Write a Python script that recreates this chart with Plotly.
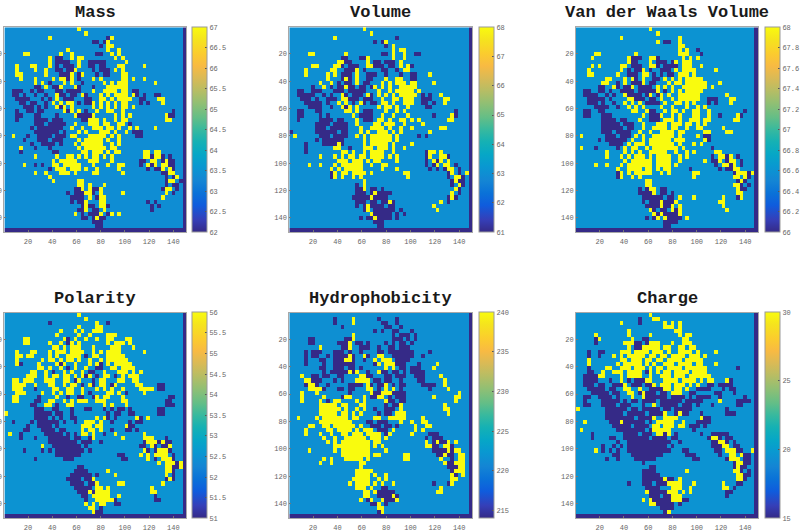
import numpy as np
import plotly.graph_objects as go

# Each map is stored as one run list per row of 3x3 residue bins.
# "o" marks bins at the top of the scale, "#" bins at the bottom of the scale.
MASS = [
"o20","o22","o12 #28 o29","#24-25 #27 o28","#26 o28-29","o17 o28 o31","o5-6 o15 o18 #25-26 o29 o31","#14-15 o12 o18 o20-21 o30 o32",
"o12 #14-17 o20 #23-27 o33","o3 o7-8 o12 #14 #16-18 o20 #23-24 #26-27 o31-32 o38","o3 o8 o11 #14-15 #17-18 o19 #24 #26-28 o30 o32","o3-4 o11 #15-17 o18 #20 o21 #25 #27-28 o32-33",
"o4 o8 o13 o15-16 #17 o18 #20 o24 o26 o32-33 o35 o38","o8 o10 #12 o16 o18 #21 o27 o29 o31-33 o41","#8-9 o11 #13-14 o15 o19 #20 #24 o28-33","#2-4 #7 #9-10 #14-15 #17-20 o24 o27-30 o32-33 #35-36",
"#2-3 #5 #8 #11 o14 #15-16 #18-19 o21 #22 o26 o28 o30-33 o35 #36 #38 #41-42","#3-6 #10 #12 o14 #16-18 #22-23 o26-27 o29 o31-34 #37-38 o42-43","#4-5 #7-8 #11 o13 o15 o17-18 #20 #22-23 o24 o26 o28 o30 o32-33 #37 #39 o43","#5-7 #9 #11 o14 #15 o16 o18 o24 o26 o28 o30 o32-33 o35",
"#3 #6-7 #9-10 o16 #17 o18 o20 #22 o25 o28-29 o32 #46","#3-4 #8-9 #14 o19 #20-23 o24 o30 o32 o34 o44 #45-46","#3 #8-11 #13-15 #21-22 o23-25 o27 o30 o32-33 o44-45","#8-10 #12-16 o19 o23-25 o27-28 o31-32 #34",
"#7 #9-15 o18 o21 o24-26 o28-29 o31 o34 o36 o41","#8-14 #16 o20 o22 o26-28 o30 o33 #35-37","o2 #6 #9-12 #14-16 o18-19 o23-27 o29 o31 #36-37","#5 #9-11 #13-15 o20 o22-26 o28 o31",
"#7 #10-13 #15 o19 o21-26 o29 o31","o4 #8 #12 o20 o22-26 o27 o29-30","#4 #13-14 o21-22 o24-26 o28 o30-31 #38 o38-39 o41-42","o8 o14 o17-18 o20 o22 o24-25 o27 o29 o38-39 #40 o41-42 #43 #45",
"o13 o15-19 o23-25 o29 #37-38 o40-41 #43 o44 #45-46","o5 #8 #10 o13-14 o16-20 o24 o28 o31-32 #37 o39 #40 o41 o43-44 #45-46","#12 o14-16 o18-20 o22 o25 o31 #39 #41-42 o43 o45 #46","o8 o11 o15-17 o19 o24-25 o32 #43-44 o45-46",
"o12 #44 #46 o47","o13 o20-21 #44 o45-46 #48","o20-21 o23 o27 #44 #46-47","#19-20 o21 o23 #24-25 o26 #43 o44-45 #47",
"#17 #19-21 o22-23 #24 o26 o32 o44 #46","#18-21 o23 #25 o26-27 o43","#18 #20-21 o22 o26 o27 #39 #41","#21 o22 #23-24 o26-27 #28 #40 #42",
"#20-21 o22 #24-25 o27 #40","o19 #21 #23-24 #25 o26 #28 o29 o31","#21-22 #24 o25 #26-27","#24-26","#25-26","#0-49",
]
VOLUME = [
"o20","o22","o12 #29","#23 #25 o26","#26 o28","o28 o30-31","o5-6 o15 #25-26 o28 o31 #34-35","#14-15 #19-20 o21 o28 o31",
"o13-14 #15-16 o21 #23-24 #26-28 o30","o6-7 o12-13 #14 #16-18 o21-22 #23-25 #27-28 o30 o32 #33","o4 o11-12 #15-17 o18 #20 #25-26 #29 o31-32","o4 o10 o12 #14-16 o18 #21-23 #26 #30 #33-34 o38",
"o10 #14 o15 #16 o18 #21-22 o26 o29-30 #33-34","o8 o11 #13 #15-16 o18 #20-21 o25 o27 o29-31 o33-34 o39","#6 o9 #11 #13-14 o15 #16-17 #19-20 #22 o23 o25 o27 o30-34","#2-3 #6-8 #12-14 #16-20 o24 o27 o29-33 o35",
"#2-6 #9 #11 o14 #15 #17-19 o21 #22 o24 o26 o28 o30-34 #36 #38 o41","#3-5 #7 #10-12 o14-15 #16-18 #20-22 o25 o28-29 o31-33 #36-38 o42-43","#4-8 #10 o13 o15 #17 o19 #20 #22-23 o25-26 o28 o31-33 #36-37 #39 o42","#5-8 #11 o14 #15 o16 o18 o24 o26-27 o29 o32 #37-38",
"#2-3 #7-8 o15-16 o18 #20-22 o26 o29 o31 #45","#2-3 #8 #10 o17 #19-22 o25 o28 o32 #39 o44 #45","#2 #8-11 #13-14 o18 #20-22 o24-25 o27 o30-31 o33 o35 o43-44","#7-10 #12-15 o18 o23-24 o26-28 o31 o36",
"#7-9 #11-15 o19 o22-25 o27 o30 o33 o41-42","#0 #7-12 #14-15 o19 o21 o24-26 o28 o30 o38","o1 #8-10 #12-15 o18 o20 o22-27 o29 #35 #37","#7 #9-14 o20 o22-27 o29",
"#4 #9-12 o13 #14 o20 o22-26 o28 o33","#4 o12 o13 #16 o20-22 o24-26 o28 o31","#4 o14-15 o17 o20 o22-25 o28 #37 o38-39 o41","o8 o12 o14 o16-17 o19-20 o22-25 o27 o29 #37 o38 o41-42 #43",
"o13-15 o17-19 o21 o23-24 o29 #37 o39 #40 o41 o43","o5 o8 o12 o14-19 o22 o25-26 #37 #39 o40 o42-43 #45","o11 o13 o15-19 o25 o29 #38 #40 #42 o43-44 #46","#11 o12 o14-15 o17-20 o22 o31-32 #43 o44 #46 o48",
"#11 o12 o14 o17 o19 o32 #43 o45-46 #47","o20 #44 o45 #46-47","#18 o20 #44 o46 #47","#18-19 o20 #22-23 #25 o45 #46",
"#18-20 #22 o23 #24-27 o44 #46","#17-21 #23-26 o22 #43 o44 #45","#18-20 #22-23 #25-28 o27 o41 #43","#18 #20-24 o21 #25 #27-28 o39",
"#20 o21 #23-24 #25-28 #30 o40","o22 #23 #24-27 #29 #31","#19 #21-22 o23 #24-27 #29","#23-25","#24-25","#0-49",
]
VDW_VOLUME = [
"o20","o22","o12 o28","#24-25 o22 o28","o28-29","o28 o30 #33","o5-6 o16 o28-30 #34","o4 o14 #15-17 o20-21 #22 o29 o31 o33",
"o14 #15-16 o20 #22-24 #26 o27 o29-31","o4 o6 o12-13 #15-17 o20-21 #22 #24-27 o29-31 o34","o3 o12 #14 #16-17 o18 #20 #23-25 o27 o29-32 o38","o3-4 o11 #14-16 o18-19 #21 #23 #25-26 o28-30 o32",
"o8-9 o13 o15 #16 o18 #21-22 o24 o26 o28 o30-34","o7-8 #11 o13 #15-17 o18 #20-21 o25 o27-28 o30-35 o39","#6-7 o10 #11 #13-14 o15 #17-20 o22 o24 o26 o29-35 o37","#2-3 #6-7 #9 #12-15 #17-21 o22 #24 o26 o28 o30-34",
"#2-5 #8 #10 o13 #14-17 #19 o20 #22 o23 o25 o28-33 o41","#3-7 #9 o14-15 #16-18 #20-21 o23 o26 o28-33 #36-38 o42-43","#3-5 #7 #10 o13 o15 o17 #19-22 o24 o27-28 o30 o32 #36 #38 o42","#5-8 #11 o14 o16 o18 o23 o26 o30 o33 o35",
"#2-3 #6-7 o15-16 o19 #20-21 o24 o26-27 o29 o32-33 o36 #46","#2-3 #7-9 o18 #20-22 o23 o26 o28 o32-33 o36 #39 o44 #45","#7-10 #12-13 o17 #20-22 o24-26 o28 o31-33 o35-36 o43-44","#7-11 #13-15 o18 o22-24 o26-28 o30-31 o33 o35",
"#7-12 #14-15 o18 o21-24 o26-27 o30 o33-34 o40","#7-9 #11-14 o17 o20 o23-26 o28-29 o35-36 o41-42","o1 #8-10 #12-14 o16 o18 o21-26 o28 o33 #35-36","#6 #8-13 o15 o18 o20-25 o27-29 o35 #36",
"#9-12 o14 o16-18 o20-26 o28 o32 o34","o1 #5 #11 o13 o15-16 o19 o21-26 o27 o29 #37","o8 o13 o15 o17 o20-24 o27 o30 o32 #38 o38-39","o8 o12 o14 o16-18 o20 o22-25 o28 o30 #37 o39-40 #41 o42 #44",
"o13 o15-20 o22-25 o28 o35 #37-38 o39 #41 o42-43 #45","o5 o8 o12 o14-20 o22-25 o27 #38 o40-41 #42 o43 #45","o11 o14-17 o19-20 o22 o24-25 #31 #39 #41-42 o43-44","#11 o12 o14 o16-20 o23 o25 o32-33 #43 o44-46 #47 o48",
"#11 o12 o15 o17 o32 o43-44 o46 #47","o19-20 #44 o45 #46","o19-20 o43-44 #45 #47","#17 #19 o20-21 #23-24 o44 #45-46",
"#17-20 o21 #23-24 #26 o44-45","#18-23 #25-26 o28 o32 o40 #44 o45","#18 #20-22 o23 #24-26 o27 o39-40","#19-22 o23 #24-25 o26 o28 o40",
"o20 #21 #23-24 o26 #27 o28 o41","o21 #22 o23 #24-27 o28","#19 #21 o22 o24 #25-28 o30","#24-27","#24-25","#0-49",
]
POLARITY = [
"o20","o22","#12 #28 o25","o20 o25-26","o15 o19 o21 o24-26","o14 o20 o23 o28-30","o5-6 o16 #17 o19 o22 o25 o28-29 o33-34","o5-6 o12 o15 #17 o18 o20 o28 o30-32 o34",
"o13-14 o16 o18-20 o24 o29-31 o35","o3 o7-8 o12 o14-16 o18-21 o24 o26 o28-31 o38","o3-4 o6-7 o12 o14 o17-20 #22 o24-25 o28-32","o3 o10 o12-13 o15 o17-18 o20 o23 o26 o28-33",
"o3 #4 o9 o14 #15 o16 o19 o23 o25 #26 o28 o30-34","o9-10 o12 o15 #17 o19 o22 #25-26 o29-30 o32-35","o7-8 o11 #13 o16 o18 o21 #23-24 o27 o31-33 o35 o37","o6-8 o11 o13-14 o16-17 o19 o21 #22 o23 #25 o27-28 #30 o32 o34-36",
"o2-3 o5-7 o11-13 o16-17 #19 o20 #24 o26-27 o31-32 o35-36","o2-5 o8 o12-13 o16 o18-19 #21 o23 #24 o26-27 #29 o30 o36-37 #42-43","o2-4 #8 o13-14 o17-18 o21 o25 o27 o29 o32 o37 o38-40 #42-43","o3-5 o10 o13 o15 o17-18 o21 #23 o28-29 o31 #33 o38",
"o2-3 #9 o14 #17 #20-21 #24 o25 o27-28 o32 #45-46","o2-3 #8-9 o12-13 o16 o18 o20-22 o25-27 o32-33 #44-45","#7-8 o11-12 #14 o17-18 o27 o29 o33 #44-46","#8-10 #13-14 #18 #22-23 #27 #29 #31-32 #34 #42-43",
"o0 #8-12 #14-15 #18 #28 #30-31 #34-35 #42-43","#8-11 #13 #15 #18-19 o25 o27 #28 #30 o36 #37 o39","#2 #7 #9-14 #16 #19 o22-24 o26 #29 #34 #36-37","#6 #9-12 #14 o21-23 o25-26 o33 #34-35",
"#5-6 #10-13 #15-16 o21 o23-24 o26 #29 #33-34 #36","o1 #4 #11-15 #17 #19 o21-22 o24 #27 o30 o38","#4 #8 #12-17 #19-20 #23 o24 o32 o38-40 #44","#12-19 #21-23 #26 #38 o39-41 #42 o43 #44-45",
"o10 #13-20 #22 #37-38 o40 #41 #43-44 o45","#5 #10 #12 #14-21 #23 o38 #39 #41 o42-44 #45","#14-20 #31-32 o37 o39 o41-44 #46","#8 #16-18 #32-33 o39 #41 o43-45 #46",
"o42 o44-46 #47 o48","#20-21 o44-45 #46-47 o48","#19-22 o28 o44-45 #46","#18-23 #25 o30 o44 #46",
"#17-20 #22-23 o24 #44 o45 #46","#18-21 #23-24 o25 o31-32 o43","#19-23 o25-26 o28 o40","#20-22 o23 #24 o25-28 o40-41",
"#21-22 o24-28 o31 #41","#22 o25-29 #30 #41-42","o22 o24 o26-27 #30-31","o23-24 #26","o24 #25-26","#0-49",
]
HYDROPHOBICITY = [
"","#12 o17 #24 #29","#12 o17 #25-26 #29","#14 #26-27 #30","#23 #25 #28-29 #33","#17 o17 #28 #30-32 #34","#5-6 #15-16 o17 #28-30 #32 #34","#5-6 #13-15 o16 #18-19 #21 #26 #28 #30-31 #33",
"o8 #14-15 o16 #19-21 #24 #27-28 #30-32","#4 #6-8 #12-14 #16 #19 #24-25 #27-33 #38","#4 #6-7 #10 #12-15 o16 #17 o20 #21 o24-25 #28-33 #36","#4 #8-9 #12-14 o15-16 #17 #20 o23 o25-27 #29-32",
"#4 #9 #12-17 #23 o24 o26-28 #29-31 #35 o40","#8-9 #12-14 #16-17 #19 o26 o28 #30-31 #33-35 o39","#9 #11-15 o16 #17 o18 #21 o24 #25-26 #28-29 #31 #33-36","o3 #6-7 #9-10 #13-14 o19-20 #21-22 #26-27 #29-31 #34-36 o41",
"o4-5 #6-8 #12 #14 o18-21 #23-24 #26-27 #30 #35-36 o42","#4 o5-6 #7 #10 #16-19 o21 #22 #24-25 o26 #28 #30-31 #36-39 o42","o5-8 #9 #13-14 #16-17 o21-22 #24 o26 o28 #30 #38 o43","o3 o7 #16 o22 #23-24 o25-27 #28-31 o46",
"o3 o9 #14 o15-16 o20 #22-23 o24-25 #27 #29-31 o39 o45-46","o3 o8 #10 o12-13 o18 o20 o26 #27-28 #30-31 o45","o8-12 o14-15 o19-20 #26 #28-29 o30 o42","o8-13 o15 o18 o20 #23 #26-28 o30 o42-43",
"o8-12 o14-15 o17 o19 #24 #26-27 o29-31 o43","o2 o7 o9-15 o17-18 o23-24 o27-31 o36","o8-16 #21-22 #24-26 o30 o33 o36-37","o5-6 o9-10 o12-17 o19 #22-24 #26-27 #29 o34 o37-38",
"o4 o10-11 o13-16 o18 o20-22 #24-26 o28 o34 o36","o4 o8 o11 o14-15 o17-19 o21-24 #26 o27 o33 #38-40","o9 o12 o15-20 o22-24 o26 #37 #39-41","o10 o12 o14-21 o23-24 o37 #39 o40 #41-42 o43 o45",
"o12-14 o15-21 o23 o25 o37-38 #39-40 o42-43 #44","o5 o12 o14-21 o26 #39-42 o43 #44 o45-46","o14-21 o23-24 o31-32 #40-41 o42 #43-44 o46-47","o9 o11 o15-19 o21 o31-32 o41 #44 o46-47",
"o8 o11 o19-20 o42 #43-44 o45-47","o19 #43-45 o46-47","o18-22 #44 o45-47","o18-21 o23 o26 o44 #45 o47",
"o17-21 o24 o26 o44-45","o16 o18-21 o23 o25 o28 #39 o44 #43","o18-20 o22 #25-26 o41","o20-21 o23 #24-28 o40-41",
"o20-21 #24-27 o28 #29","o19 #21 o22 o25 #26-28 o29","#22-23 o24 #26","o24-25","#24 o25","#0-49",
]
CHARGE = [
"o20","o21-22 #17","o12 #17 o24 o26 o28","o24-26 o28","o14 o27-28","o5 o14 o20 o28 o30-31","#5 o6 o15 #18-19 o29-30","#5 o13-15 #16-17 #19 o20-22 o26 o29-31",
"o14 #16-17 o18-22 o24-25 o28-29 o31-32","#3 #6-7 o12-14 o16-19 o21-23 o25 o28-31 o33 o38","#3 #6 o10 o12 o14-18 o20-21 o23-24 o26-29 o31-33 o35","o3 o12-13 o15-17 o19-20 o22-23 o25-28 o30-34",
"o3 o11 o13-17 o19 o21 o24-26 o28-31 o33-34 o38","#3 o8-9 o12-14 o16-18 o20 o22-23 o25-28 o30-35 #44","#3-4 o7 o10-12 o14-17 #19 o20 o22 o24-25 o27-30 o32-35","#2-5 o6-7 o12 o14-17 o20 o23-25 o27-29 o31-36",
"#2-5 #9 o12 #14 #16-18 o19-20 o24-27 o29-32 o34 o36-37 o41 #42","#2-4 #6-7 #10-12 o13 #15-17 #19-20 o21 o23-25 o27-29 o31 o33 #36-37 #39-42","#3-7 #9-10 o13-14 o17 #20-23 o24-25 o27-28 o30 #33-36 #40 #42-43","#4-8 #10-11 o14-15 #17 o18 #19-21 #23-24 o26-28 #31-32 #38-39 #43",
"#2-3 #6-9 #11 o15 o18 #19-24 #26-29 #31 #33-36 #39 #46","#2 #7-11 #13 #15-16 #18-21 #23-28 #30-32 #33-34 o39 #44-47","#2-3 #7-10 #12-14 #18 o21 #23-27 #29-31 #33 #37 #44-45","o0 #8-13 #15-16 #18-22 #24-25 #27-31 #41",
"#8-12 #14-18 #20-23 o24 #27 o28 #29-30 #34 #41-43","#8-15 #17-19 #20 o21 o24-27 o34 #35-36","o2 #9-11 o12 #13-18 #20 o22-26 o29 #33-36","#10-14 #16-19 o21-22 o24-26 o28-29 #31-33 #35",
"o1 #11-18 #20 o21-25 #32","#4 #13-16 #18-20 o22-23 #24 o25 #27 #34 #37-41","#4 #9-10 #13-19 #21-24 #26-27 #36 o37-38 #39 #41-42","#11 #14-25 #28 #37-38 o39-40 #41 #43",
"#7 #10 #12 #14-24 #26 #37-39 o40-41 #43-44","o5 #7 #9 #11 #14-25 #29-30 #38-39 o41-43 #44-45 o48","#10-11 #15-23 #30-32 #39 o42-43 o45 #46-47","#8 #11 #16-21 #32-33 #41 o42-44 #46-47",
"#18 #43 o44-45 #46-47","#20-21 #43 o44 #45-46","#18-21 o30 o43-44 #45 #47","#18-22 o44-45 #46-47",
"#18-23 o24 #25-26 o28 o44-45 #46","#14 #18-20 #22-24 o25-28 o32 o40 #44-45","#19-22 o26-28 o31 o40-41 #43","o19 #20-24 o25-27 o29 o31 #41-42",
"#20-22 #24-25 o26-28 #41","o18 o20 #21-25 o26-28 #29-30","o20-21 #22-26 #28","#23-26","#24 o25","#0-49",
]

TITLES = ["Mass", "Volume", "Van der Waals Volume", "Polarity", "Hydrophobicity", "Charge"]
MAPS = [MASS, VOLUME, VDW_VOLUME, POLARITY, HYDROPHOBICITY, CHARGE]
LOW = [62, 61, 66, 51, 214, 15]
BASE = [63.4, 63, 66.6, 52.5, 221.5, 19.5]
HIGH = [67, 68, 68, 56, 240, 30]
CBAR_TICKS = [
    [62, 62.5, 63, 63.5, 64, 64.5, 65, 65.5, 66, 66.5, 67],
    [61, 62, 63, 64, 65, 66, 67, 68],
    [66, 66.2, 66.4, 66.6, 66.8, 67, 67.2, 67.4, 67.6, 67.8, 68],
    [51, 51.5, 52, 52.5, 53, 53.5, 54, 54.5, 55, 55.5, 56],
    [215, 220, 225, 230, 235, 240],
    [15, 20, 25, 30],
]
AXIS_TICKS = [20, 40, 60, 80, 100, 120, 140]

PARULA = [
    [0.00, "#352a87"], [0.06, "#353fb8"], [0.13, "#0f5cdd"], [0.19, "#0a72d8"],
    [0.25, "#1485d4"], [0.32, "#0998d1"], [0.38, "#06a7c6"], [0.44, "#15b1b4"],
    [0.50, "#38b99e"], [0.56, "#65be86"], [0.63, "#92bf73"], [0.69, "#b7bd64"],
    [0.75, "#d9ba56"], [0.81, "#f8ba43"], [0.87, "#fbcc2e"], [0.94, "#f5e41d"],
    [1.00, "#f9fb0e"],
]

W, H = 801, 531
PLOT_X = [(4.4, 186), (289.3, 472), (576, 758)]
CBAR_X = [(192, 207), (479, 494), (765, 780)]
PLOT_Y = [(27.3, 232), (312.5, 518)]


def build_grid(rows, low, base, high):
    z = np.full((50, 50), float(base))
    for r, row in enumerate(rows):
        for run in row.split():
            value = high if run[0] == "o" else low
            ends = run[1:].split("-")
            z[r, int(ends[0]):int(ends[-1]) + 1] = value
    z[:, 49] = low
    return z


fig = go.Figure()
layout = {}
for i, title in enumerate(TITLES):
    col, row = i % 3, i // 3
    x0, x1 = PLOT_X[col]
    y0, y1 = PLOT_Y[row]
    c0, c1 = CBAR_X[col]
    suffix = "" if i == 0 else str(i + 1)
    fig.add_trace(go.Heatmap(
        z=build_grid(MAPS[i], LOW[i], BASE[i], HIGH[i]),
        x0=2, dx=3, y0=2, dy=3,
        zmin=LOW[i], zmax=HIGH[i],
        colorscale=PARULA,
        xaxis="x" + suffix, yaxis="y" + suffix,
        colorbar=dict(
            x=c0 / W, xanchor="left", xpad=0, ypad=0,
            y=1 - (y0 + y1) / 2 / H, yanchor="middle",
            len=(y1 - y0) / H, lenmode="fraction",
            thickness=c1 - c0, thicknessmode="pixels",
            outlinecolor="#9a9a9a", outlinewidth=1,
            ticks="inside", ticklen=2, tickcolor="#555",
            tickvals=CBAR_TICKS[i], ticktext=[str(t) for t in CBAR_TICKS[i]],
            tickfont=dict(family="Liberation Mono", size=7, color="#666"),
        ),
    ))
    axis_style = dict(
        showgrid=False, zeroline=False, showline=True, mirror=True,
        linecolor="#a8a8a8", linewidth=1, ticks="inside", ticklen=2,
        tickcolor="#777", tickvals=AXIS_TICKS,
        tickfont=dict(family="Liberation Mono", size=7, color="#666"),
    )
    layout["xaxis" + suffix] = dict(axis_style, domain=[x0 / W, x1 / W],
                                    range=[0.5, 150.5], anchor="y" + suffix,
                                    ticklabelstandoff=3)
    layout["yaxis" + suffix] = dict(axis_style, domain=[1 - y1 / H, 1 - y0 / H],
                                    range=[150.5, 0.5], anchor="x" + suffix)
    fig.add_annotation(
        text="<b>%s</b>" % title, xref="paper", yref="paper",
        x=(x0 + x1) / 2 / W, y=1 - (y0 - 14.5) / H,
        xanchor="center", yanchor="middle", showarrow=False,
        font=dict(family="Liberation Mono", size=17, color="#1a1a1a"),
    )

fig.update_layout(width=W, height=H,
                  margin=dict(l=0, r=0, t=0, b=0, autoexpand=False),
                  paper_bgcolor="white", plot_bgcolor="white", **layout)
fig.write_html("out.html")
